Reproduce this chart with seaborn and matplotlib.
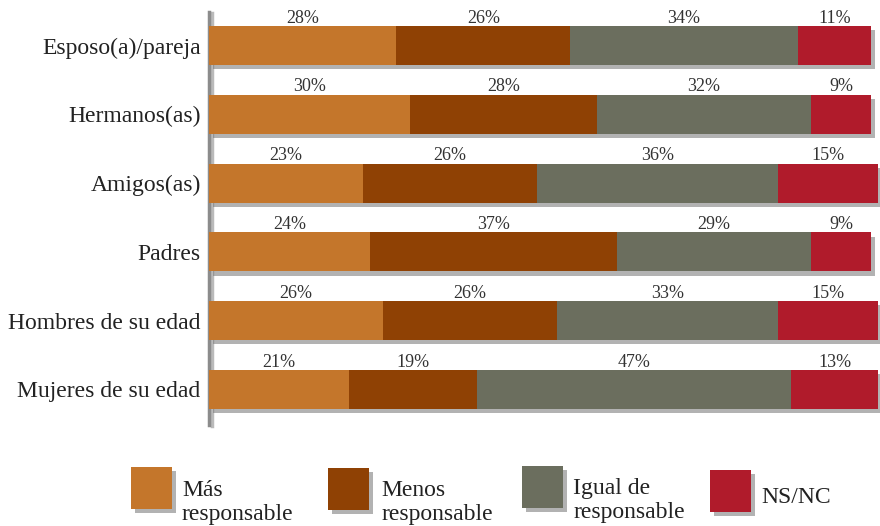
import matplotlib
matplotlib.use("Agg")
import matplotlib.pyplot as plt
import matplotlib.patheffects as pe
from matplotlib.patches import Rectangle
import numpy as np
import pandas as pd
import seaborn as sns

# Survey answers per group (percent of respondents)
categories = ["Esposo(a)/pareja", "Hermanos(as)", "Amigos(as)", "Padres",
              "Hombres de su edad", "Mujeres de su edad"]
mas_responsable = [28, 30, 23, 24, 26, 21]
menos_responsable = [26, 28, 26, 37, 26, 19]
igual_responsable = [34, 32, 36, 29, 33, 47]
ns_nc = [11, 9, 15, 9, 15, 13]

series_names = [["Más", "responsable"], ["Menos", "responsable"],
                ["Igual de", "responsable"], ["NS/NC"]]
series_values = [mas_responsable, menos_responsable, igual_responsable, ns_nc]
series_colors = ["#C4762B", "#8F4104", "#6B6E5E", "#B01B2B"]

sns.set_theme(style="white")
plt.rcParams["font.family"] = ["Liberation Serif", "DejaVu Serif"]

W, H = 880, 526
fig = plt.figure(figsize=(W / 100, H / 100), dpi=100)
ax = fig.add_axes([209 / W, 1 - 425 / H, (W - 209) / W, (425 - 12) / H])

# Stacked bars: cumulative totals drawn from the longest to the shortest
df = pd.DataFrame({"categoria": categories})
cum = np.cumsum(np.array(series_values), axis=0)
bar_h = 0.567
shadow = [pe.SimplePatchShadow(offset=(3, -3), shadow_rgbFace="#555555", alpha=0.45), pe.Normal()]
for i in range(len(series_values) - 1, -1, -1):
    df["total"] = cum[i]
    n_before = len(ax.patches)
    sns.barplot(data=df, x="total", y="categoria", orient="h", color=series_colors[i],
                saturation=1, width=bar_h, ax=ax, linewidth=0, zorder=2 + (3 - i))
    if i == len(series_values) - 1:
        for p in ax.patches[n_before:]:
            p.set_path_effects(shadow)

# Percent labels above each segment
for i, vals in enumerate(series_values):
    for r, v in enumerate(vals):
        start = cum[i][r] - v
        ax.annotate(f"{v}%", xy=(start + v / 2, r - bar_h / 2), xytext=(0, 2.5),
                    textcoords="offset points", ha="center", va="baseline",
                    fontsize=13, color="#333333")

ax.set_xlim(0, (W - 209) / 6.69)
ax.set_ylim(5.516, -0.487)
ax.set_xlabel("")
ax.set_ylabel("")
ax.set_xticks([])
ax.tick_params(axis="y", length=0, pad=6, labelsize=17, labelcolor="#222222")
for side in ["top", "right", "bottom"]:
    ax.spines[side].set_visible(False)
ax.spines["left"].set_color("#8C8C8C")
ax.spines["left"].set_linewidth(2.5)
ax.spines["left"].set_path_effects([pe.SimpleLineShadow(offset=(2, -1), shadow_color="#777777", alpha=0.5), pe.Normal()])

# Legend drawn in pixel coordinates below the chart
lax = fig.add_axes([0, 0, 1, 1])
lax.set_xlim(0, W)
lax.set_ylim(H, 0)
lax.axis("off")
legend_patch_x = [131, 328, 522, 710]
legend_patch_y = [467, 468, 466, 470]
legend_text_x = [182, 381, 573, 761]
legend_baseline = [496, 496, 494, 503]
for lines, col, px, py, tx, by in zip(series_names, series_colors, legend_patch_x,
                                       legend_patch_y, legend_text_x, legend_baseline):
    rect = Rectangle((px, py), 41, 42, facecolor=col, edgecolor="none")
    rect.set_path_effects([pe.SimplePatchShadow(offset=(3, -3), shadow_rgbFace="#555555", alpha=0.45), pe.Normal()])
    lax.add_patch(rect)
    for k, line in enumerate(lines):
        lax.text(tx, by + 24 * k, line, ha="left", va="baseline", fontsize=17, color="#222222")

fig.savefig("out.png", dpi=100, facecolor="white")
